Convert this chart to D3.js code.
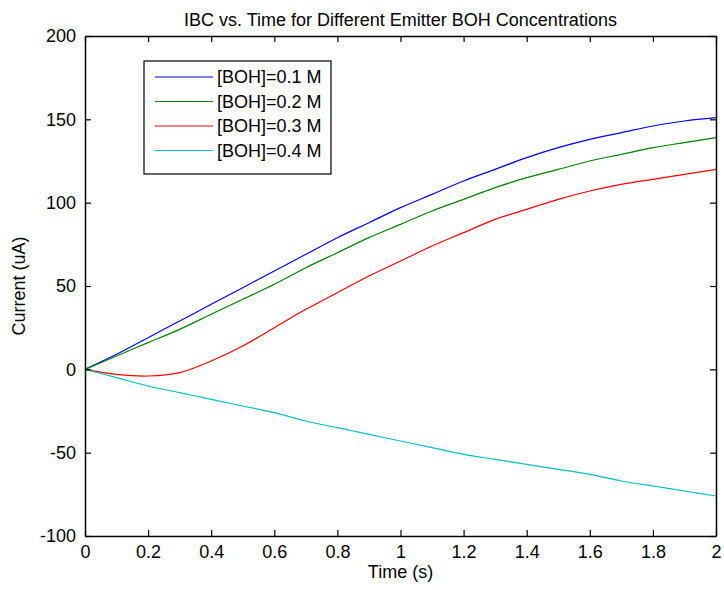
<!DOCTYPE html>
<html>
<head>
<meta charset="utf-8">
<script src="https://cdn.jsdelivr.net/npm/d3@7"></script>
<style>
  body { margin: 0; background: #fff; }
  svg text { font-family: "Liberation Sans", Arial, sans-serif; fill: #000; }
</style>
</head>
<body>
<div id="chart"></div>
<script>
// time samples (s)
const times = [0, 0.1, 0.2, 0.3, 0.4, 0.5, 0.6, 0.7, 0.8, 0.9, 1.0,
               1.1, 1.2, 1.3, 1.4, 1.5, 1.6, 1.7, 1.8, 1.9, 2.0]

// current (uA)
const boh01 = [0, 9, 19, 29, 39, 49, 59, 69, 79, 88, 97,
               105, 113, 120, 127, 133, 138, 142, 146, 149, 151]
const boh02 = [0, 8, 16, 24, 33, 42, 51, 61, 70, 79, 87,
               95, 102, 109, 115, 120, 125, 129, 133, 136, 139]
const boh03 = [0, -3, -4, -2, 5, 14, 25, 36, 46, 56, 65,
               74, 82, 90, 96, 102, 107, 111, 114, 117, 120]
const boh04 = [0, -5, -10, -14, -18, -22, -26, -31, -35, -39, -43,
               -47, -51, -54, -57, -60, -63, -67, -70, -73, -76]

const seriesNames = ['[BOH]=0.1 M', '[BOH]=0.2 M', '[BOH]=0.3 M', '[BOH]=0.4 M']
const seriesValues = [boh01, boh02, boh03, boh04]
const seriesColors = ['#0000ff', '#008000', '#ff0000', '#00bfbf']

const xTicks = [0, 0.2, 0.4, 0.6, 0.8, 1, 1.2, 1.4, 1.6, 1.8, 2]
const yTicks = [-100, -50, 0, 50, 100, 150, 200]

const width = 724, height = 590
const margin = {top: 36, right: 8, bottom: 54, left: 85}
const innerW = width - margin.left - margin.right
const innerH = height - margin.top - margin.bottom
const fontSize = 18

const svg = d3.select('#chart').append('svg')
    .attr('width', width)
    .attr('height', height)

const g = svg.append('g')
    .attr('transform', `translate(${margin.left},${margin.top})`)

const x = d3.scaleLinear().domain([0, 2]).range([0, innerW])
const y = d3.scaleLinear().domain([-100, 200]).range([innerH, 0])

// curves
const line = d3.line()
    .x((d, i) => x(times[i]))
    .y(d => y(d))
    .curve(d3.curveCatmullRom.alpha(0.5))

seriesValues.forEach((vals, k) => {
    g.append('path')
        .datum(vals)
        .attr('d', line)
        .attr('fill', 'none')
        .attr('stroke', seriesColors[k])
        .attr('stroke-width', 1.2)
})

// axes, matlab style: ticks inward on all four sides
const tickLen = 6
const fmt = d => String(d)

const bottomAxis = g.append('g')
    .attr('transform', `translate(0,${innerH})`)
    .call(d3.axisBottom(x).tickValues(xTicks).tickFormat(fmt).tickSizeInner(-tickLen).tickSizeOuter(0).tickPadding(9))
const topAxis = g.append('g')
    .call(d3.axisTop(x).tickValues(xTicks).tickFormat('').tickSizeInner(-tickLen).tickSizeOuter(0))
const leftAxis = g.append('g')
    .call(d3.axisLeft(y).tickValues(yTicks).tickFormat(fmt).tickSizeInner(-tickLen).tickSizeOuter(0).tickPadding(9))
const rightAxis = g.append('g')
    .attr('transform', `translate(${innerW},0)`)
    .call(d3.axisRight(y).tickValues(yTicks).tickFormat('').tickSizeInner(-tickLen).tickSizeOuter(0))

;[bottomAxis, topAxis, leftAxis, rightAxis].forEach(a => {
    a.selectAll('.domain').attr('stroke', '#000').attr('stroke-width', 1.5)
    a.selectAll('.tick line').attr('stroke', '#000').attr('stroke-width', 1.2)
    a.selectAll('text').style('font-size', fontSize + 'px')
})

// labels
svg.append('text')
    .attr('x', margin.left + innerW / 2)
    .attr('y', 26)
    .attr('text-anchor', 'middle')
    .style('font-size', fontSize + 'px')
    .text('IBC vs. Time for Different Emitter BOH Concentrations')

svg.append('text')
    .attr('x', margin.left + innerW / 2)
    .attr('y', 578)
    .attr('text-anchor', 'middle')
    .style('font-size', fontSize + 'px')
    .text('Time (s)')

svg.append('text')
    .attr('transform', `translate(25,${margin.top + innerH / 2}) rotate(-90)`)
    .attr('text-anchor', 'middle')
    .style('font-size', fontSize + 'px')
    .text('Current (uA)')

// legend
const legend = g.append('g')
    .attr('transform', 'translate(59,25)')

legend.append('rect')
    .attr('width', 187)
    .attr('height', 113)
    .attr('fill', '#fff')
    .attr('stroke', '#000')
    .attr('stroke-width', 1.2)

seriesNames.forEach((name, k) => {
    const ly = 16 + k * 24.5
    legend.append('line')
        .attr('x1', 11).attr('x2', 69)
        .attr('y1', ly).attr('y2', ly)
        .attr('stroke', seriesColors[k])
        .attr('stroke-width', 1.2)
    legend.append('text')
        .attr('x', 73)
        .attr('y', ly)
        .attr('dy', '0.35em')
        .style('font-size', fontSize + 'px')
        .text(name)
})
</script>
</body>
</html>
